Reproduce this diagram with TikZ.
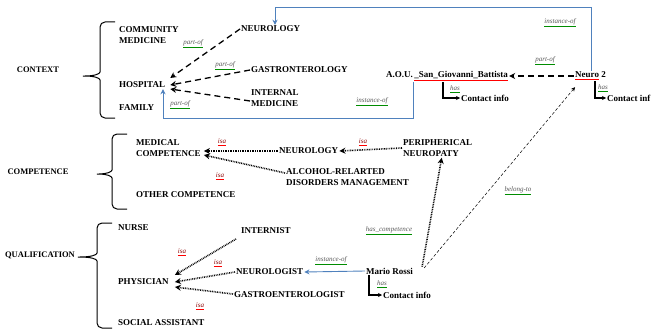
\documentclass[tikz,border=0pt]{standalone}
\usepackage{fontspec}
\setmainfont{Liberation Serif}
\usetikzlibrary{arrows.meta}
\definecolor{instblue}{RGB}{79,129,189}
\newcommand{\undl}[2]{\rlap{\color{#1}\underline{\phantom{#2}}}#2}

\begin{document}
\begin{tikzpicture}[x=1pt,y=-1pt,>=Stealth,concept/.style={font=\fontsize{9}{11}\selectfont\bfseries,anchor=west,align=left,inner sep=1pt},group/.style={font=\fontsize{8.5}{10}\selectfont\bfseries},brc/.style={line width=1pt,rounded corners=5pt},partof/.style={-{Stealth[length=6pt,width=6pt]},line width=1.3pt,dash pattern=on 6pt off 4pt},isa/.style={-{Stealth[length=6pt,width=6pt]},line width=1.6pt,dash pattern=on 0.8pt off 0.9pt},instof/.style={-{Stealth[length=5pt,width=5pt]},instblue,line width=0.9pt},has/.style={-{Stealth[length=4pt,width=4pt]},line width=1.2pt},belong/.style={-{Stealth[length=4pt,width=4pt]},line width=0.5pt,dash pattern=on 3pt off 2pt},rel/.style={font=\fontsize{7}{8}\selectfont\itshape,text=black!65,inner sep=0pt},isalbl/.style={rel,text=red!55!black}]
\useasboundingbox (0,0) rectangle (652,329);
\node[group] (context) at (38,70) {CONTEXT}; \node[group] (competence) at (38,172) {COMPETENCE}; \node[group] (qualification) at (40,255) {QUALIFICATION};
\foreach \bx/\bt/\bb/\tx/\ty in {100/22/118/80/76, 112/134/209/94/174, 97/223/328/75/257}
  \draw[brc] (\bx+15,\bt) -- (\bx,\bt) -- (\bx,\ty-9) .. controls (\bx,\ty-2) and (\bx-6,\ty) .. (\tx,\ty) .. controls (\bx-6,\ty) and (\bx,\ty+2) .. (\bx,\ty+9) -- (\bx,\bb) -- (\bx+15,\bb);
\node[concept] (commed) at (118,35) {COMMUNITY\\MEDICINE}; \node[concept] (hospital) at (118,85) {HOSPITAL}; \node[concept] (family) at (118,108) {FAMILY};
\node[concept] (neurology) at (240,29) {NEUROLOGY}; \node[concept] (gastro) at (250,70) {GASTRONTEROLOGY}; \node[concept] (intmed) at (250,98) {INTERNAL\\MEDICINE};
\node[concept] (aou) at (385,76) {A.O.U.\,\undl{red}{\_San\_Giovanni\_Battista}}; \node[concept] (neuro2) at (574,76) {\undl{red}{Neuro} 2};
\node[concept] (ci1) at (460,98) {Contact info}; \node[concept] (ci2) at (606,98) {Contact inf};
\node[concept] (medcomp) at (135,148) {MEDICAL\\COMPETENCE}; \node[concept] (othercomp) at (135,195) {OTHER COMPETENCE};
\node[concept] (neurology2) at (278,151) {NEUROLOGY}; \node[concept] (alcohol) at (285,177) {ALCOHOL-RELARTED\\DISORDERS MANAGEMENT}; \node[concept] (perneuro) at (402,148) {PERIPHERICAL\\NEUROPATY};
\node[concept] (nurse) at (117,228) {NURSE}; \node[concept] (physician) at (117,282) {PHYSICIAN}; \node[concept] (socass) at (117,323) {SOCIAL ASSISTANT};
\node[concept] (internist) at (240,231) {INTERNIST}; \node[concept] (neurologist) at (235,272) {NEUROLOGIST}; \node[concept] (gastroent) at (233,295) {GASTROENTEROLOGIST};
\node[concept] (mario) at (365,271) {Mario Rossi}; \node[concept] (ci3) at (382,295) {Contact info};
\draw[partof] (neurology.west) -- ([xshift=4pt,yshift=7pt]hospital.east); \draw[partof] (gastro.west) -- ([xshift=4pt]hospital.east); \draw[partof] ([yshift=-3pt]intmed.west) -- ([xshift=4pt,yshift=-4pt]hospital.east);
\draw[partof] (neuro2.west) -- (aou.east);
\coordinate (hb) at (163,118); \coordinate (tb) at (275,7);
\draw[instof] ([xshift=28pt]aou.south west) |- (hb) -- (hb |- hospital.south);
\draw[instof] ([xshift=17pt]neuro2.north west) |- (tb) -- (tb |- neurology.north);
\draw[instof] (mario.west) -- (neurologist.east);
\draw[has] ([xshift=58pt]aou.south west) |- (ci1.west); \draw[has] ([xshift=21pt]neuro2.south west) |- (ci2.west); \draw[has] ([xshift=4pt]mario.south west) |- (ci3.west);
\draw[isa] (neurology2.west) -- ([xshift=2pt]neurology2.west -| medcomp.east); \draw[isa] ([yshift=4pt]alcohol.west) -- ([xshift=2pt,yshift=-7pt]medcomp.east); \draw[isa] (perneuro.west) -- (neurology2.east);
\draw[isa] ([xshift=-4pt,yshift=-8pt]internist.west) -- ([xshift=5pt,yshift=7pt]physician.east); \draw[isa] (neurologist.west) -- ([xshift=5pt]physician.east); \draw[isa] ([yshift=1pt]gastroent.west) -- ([xshift=5pt,yshift=-5pt]physician.east);
\draw[isa] ([xshift=8pt]mario.north east) -- ([xshift=4pt]perneuro.south);
\draw[belong] ([xshift=10pt,yshift=3pt]mario.east) -- ([xshift=1pt,yshift=-6pt]neuro2.south west);
\node[rel] at (193,44) {\undl{green!55!black}{part-of}}; \node[rel] at (225,66) {\undl{green!55!black}{part-of}}; \node[rel] at (180,105) {\undl{green!55!black}{part-of}}; \node[rel] at (545,61) {\undl{green!55!black}{part-of}};
\node[rel] at (372,102) {\undl{green!55!black}{instance-of}}; \node[rel] at (560,23) {\undl{green!55!black}{instance-of}}; \node[rel] at (331,261) {\undl{green!55!black}{instance-of}};
\node[rel] at (455,89) {\undl{green!55!black}{has}}; \node[rel] at (603,88) {\undl{green!55!black}{has}}; \node[rel] at (382,284) {\undl{green!55!black}{has}};
\node[rel] at (389,231) {\undl{green!55!black}{has\_competence}}; \node[rel] at (518,191) {\undl{green!55!black}{belong-to}};
\node[isalbl] at (222,142) {\undl{red}{isa}}; \node[isalbl] at (220,176) {\undl{red}{isa}}; \node[isalbl] at (363,142) {\undl{red}{isa}};
\node[isalbl] at (182,252) {\undl{red}{isa}}; \node[isalbl] at (218,263) {\undl{red}{isa}}; \node[isalbl] at (200,306) {\undl{red}{isa}};
\end{tikzpicture}
\end{document}
